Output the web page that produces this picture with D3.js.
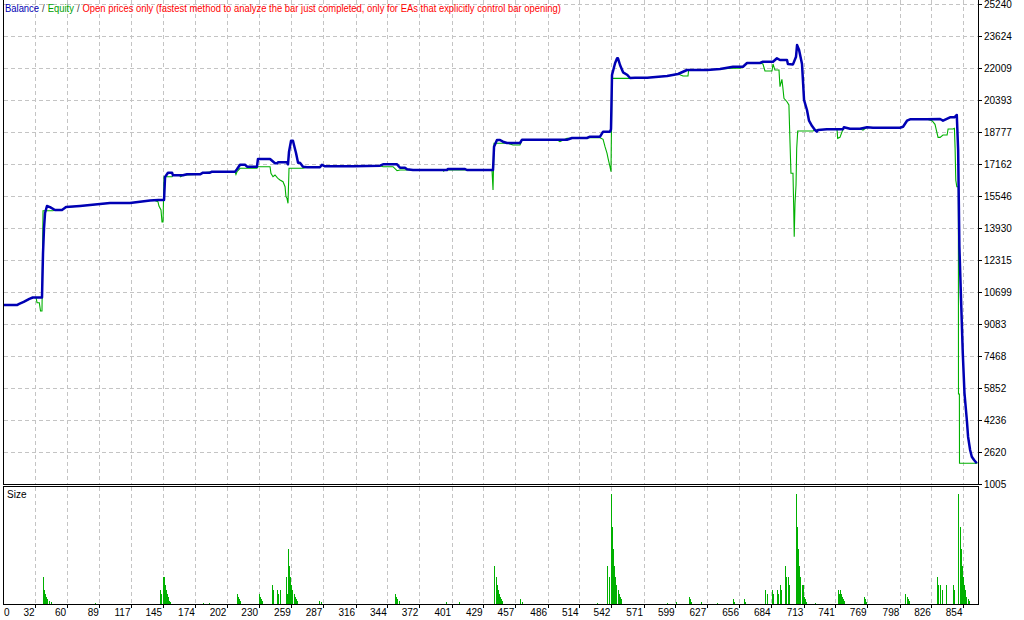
<!DOCTYPE html>
<html>
<head>
<meta charset="utf-8">
<script src="https://cdn.jsdelivr.net/npm/d3@7"></script>
<style>
  html, body { margin: 0; padding: 0; background: #fff; }
  svg { display: block; }
  text { font-family: "Liberation Sans", Arial, sans-serif; }
</style>
</head>
<body>
<div id="chart"></div>
<script>
// trade number labels along the bottom
var xTicks = [0, 32, 60, 89, 117, 145, 174, 202, 230, 259, 287, 316, 344, 372, 401, 429,
  457, 486, 514, 542, 571, 599, 627, 656, 684, 713, 741, 769, 798, 826, 854];
// money labels on the right
var yTicks = [25240, 23624, 22009, 20393, 18777, 17162, 15546, 13930, 12315, 10699,
  9083, 7468, 5852, 4236, 2620, 1005];

// [trade, balance]
var balance = [
  [4.5, 10040], [16, 10040], [18, 10100], [22, 10200], [27, 10350], [30, 10420], [38.2, 10421],
  [39.1, 12668], [40, 13930], [40.9, 14688], [42.6, 15041], [45.3, 14986], [49.7, 14839],
  [55.9, 14839], [59.5, 14986], [71.9, 15041], [80.7, 15091], [89.6, 15141], [98.4, 15192],
  [116.1, 15192], [125, 15258], [133.9, 15319], [140.9, 15344], [146.3, 15344], [147.2, 16505],
  [149.8, 16722], [153.4, 16722], [154.2, 16591], [163.1, 16591], [166.6, 16641], [178.2, 16641],
  [180.8, 16722], [187, 16722], [188.8, 16773], [209.2, 16773], [210.9, 16894], [213.6, 17126],
  [218, 17126], [219.8, 17025], [228.6, 17025], [229.5, 17414], [240.2, 17414], [244.6, 17197],
  [246.4, 17197], [247.2, 17247], [255.2, 17247], [256.1, 17146], [257, 17783], [258.8, 18338],
  [260.5, 18338], [261.4, 18121], [263.2, 17717], [265, 17227], [266.7, 17227], [269.4, 17025],
  [272.9, 16995], [284.4, 16995], [286.2, 17121], [288.9, 17045], [313.7, 17045], [337.6, 17076],
  [340.3, 17146], [352.7, 17146], [355.3, 16975], [359.7, 16975], [361.5, 16894], [366.8, 16859],
  [396.9, 16859], [397.8, 16910], [412.9, 16910], [414.6, 16859], [437.7, 16859], [438.6, 18035],
  [441.2, 18374], [443.9, 18374], [446.5, 18288], [450.1, 18222], [461.6, 18222], [463.4, 18389],
  [503.2, 18389], [507.7, 18474], [520.9, 18474], [523.6, 18540], [532.5, 18540], [535.2, 18793],
  [541.3, 18793], [542.2, 18914], [543.1, 21655], [545.8, 22246], [547.6, 22499], [548.4, 22499],
  [550.2, 22160], [552.9, 21791], [556.4, 21670], [559.1, 21504], [563.5, 21520], [574.2, 21520],
  [591.9, 21605], [601.6, 21706], [609.5, 21908], [627.2, 21908], [638.8, 21958], [650.3, 22074],
  [659.1, 22074], [662.7, 22261], [674.2, 22261], [676.8, 22327], [685.7, 22327], [689.2, 22499],
  [691.9, 22412], [698.1, 22412], [698.9, 22210], [703.4, 22190], [706.1, 22579], [707, 23170],
  [708.8, 22917], [711.4, 22210], [713.2, 20393], [715.8, 19888], [717.6, 19348], [720.3, 19080],
  [722.9, 18878], [724.5, 18793], [725.5, 18878], [733.5, 18914], [747.7, 18914], [748.5, 19015],
  [753.9, 18944], [762.8, 18944], [769, 19015], [774.3, 18995], [798.2, 18995], [800.9, 19045],
  [804.4, 19348], [807.1, 19418], [822.2, 19418], [833.7, 19433], [836.3, 19348], [842.5, 19519],
  [846.4, 19519], [848.5, 19636], [849.7, 17869], [850.8, 12986], [852.3, 10295], [853.8, 7619],
  [855.3, 5600], [857.4, 4236], [858.5, 3393], [860.3, 2722], [861.8, 2383], [863.8, 2217],
  [866.2, 2050]
];

// [trade, equity]
var equity = [
  [4.5, 10040], [16, 10040], [18, 10100], [22, 10200], [27, 10350], [30, 10420], [32.9, 10421],
  [33.8, 10159], [35.8, 10159], [36.9, 9740], [38.2, 9740], [39.1, 14804], [48, 14804],
  [49.7, 14839], [55.9, 14839], [59.5, 14986], [71.9, 15041], [80.7, 15091], [89.6, 15141],
  [98.4, 15192], [116.1, 15192], [125, 15258], [133.9, 15319], [138, 15319], [140.9, 15258],
  [141.8, 15041], [143.6, 14839], [144.5, 14234], [145.4, 14234], [146.3, 16521], [153.4, 16521],
  [154.2, 16591], [160, 16591], [161, 16521], [163.1, 16591], [178.2, 16641], [180.8, 16722],
  [188.8, 16773], [209.2, 16773], [210, 16641], [210.9, 16773], [213.6, 16945], [228.6, 16945],
  [229.5, 17025], [240.2, 17025], [241, 16692], [242.8, 16521], [244.6, 16607], [246.4, 16488],
  [247.2, 16438], [249, 16354], [251.7, 16268], [253.5, 16016], [254.3, 15511], [255.2, 15430],
  [256.1, 15177], [257, 16945], [269.4, 16945], [272.9, 16995], [284.4, 16995], [286.2, 17121],
  [288.9, 17045], [313.7, 17045], [337.6, 17076], [340.3, 17025], [349.1, 17025], [352.7, 16824],
  [355.3, 16859], [393.4, 16859], [394, 16800], [395, 16859], [436.8, 16859], [437.7, 15849],
  [438.6, 18207], [448.3, 18207], [450.1, 18222], [455.4, 18121], [461.6, 18121], [463.4, 18389],
  [494.4, 18389], [497, 18288], [503.2, 18457], [520.9, 18474], [521.8, 18490], [532.5, 18490],
  [535.2, 18409], [536.9, 18035], [538.7, 17702], [539.6, 17449], [541.3, 17025], [542.2, 16773],
  [543.1, 21487], [559.1, 21487], [563.5, 21520], [574.2, 21520], [591.9, 21605], [601.6, 21706],
  [606, 21605], [610.4, 21605], [611, 21908], [627.2, 21908], [638.8, 21958], [650.3, 21994],
  [656.5, 21994], [659.1, 22074], [662.7, 22261], [674.2, 22261], [676.8, 22210], [678.6, 21857],
  [684.8, 21857], [685.7, 22210], [687.4, 21908], [691, 21908], [691.9, 21064], [693.6, 21438],
  [694.5, 20984], [695.4, 20479], [698.1, 20307], [699.8, 20141], [700.7, 18374], [701.6, 16692],
  [703.4, 16692], [704, 15092], [704.5, 13491], [705.2, 15177], [706.1, 16102], [706.7, 17954],
  [707.6, 18828], [721.1, 18828], [722.9, 18878], [733.5, 18914], [742.4, 18914], [743, 18457],
  [745, 18508], [747.7, 18914], [748.5, 19015], [753.9, 18944], [762.8, 18944], [765.4, 18878],
  [769, 19015], [774.3, 18995], [798.2, 18995], [800.9, 19045], [804.4, 19348], [807.1, 19418],
  [822.2, 19418], [826.6, 19348], [829.2, 19166], [831.9, 18508], [833.7, 18508], [836.3, 18626],
  [839.9, 18626], [840.8, 18929], [845.2, 18929], [846.4, 18964], [847, 17954], [847.6, 16354],
  [848.5, 16016], [849.9, 16016], [850, 5549], [850.8, 5549], [850.9, 2050], [866.8, 2050]
];

// [trade, lots]
var sizeTrades = [
  [39, 0.8], [40, 0.4], [41, 0.28], [42, 0.2], [43, 0.14], [44, 0.1], [46, 0.07],
  [85, 0.03],
  [143, 0.4], [144, 0.28], [145, 0.8], [146, 0.8], [147, 0.56], [148, 0.4], [149, 0.28],
  [150, 0.2], [151, 0.1], [152, 0.07],
  [181, 0.03], [186, 0.03],
  [211, 0.28], [212, 0.2], [213, 0.14], [214, 0.1],
  [230, 0.28], [231, 0.2], [232, 0.14], [233, 0.1],
  [242, 0.56], [243, 0.4], [246, 0.4], [247, 0.28], [249, 0.4], [254, 0.8], [255, 0.28],
  [256, 1.6], [257, 1.12], [258, 0.8], [259, 0.56], [260, 0.4], [261, 0.28], [262, 0.2],
  [263, 0.14], [264, 0.1],
  [284, 0.1], [285, 0.07],
  [351, 0.28], [352, 0.2], [353, 0.14], [354, 0.1],
  [396, 0.05], [408, 0.05],
  [439, 1.12], [440, 0.8], [441, 0.56], [442, 0.4], [443, 0.28], [444, 0.2], [445, 0.14], [446, 0.1],
  [462, 0.14], [463, 0.07],
  [530, 0.03],
  [539, 1.12], [540, 0.8], [542, 3.2], [543, 2.24], [544, 1.6], [545, 1.12], [546, 0.8],
  [547, 0.56], [548, 0.4], [549, 0.28], [550, 0.2], [551, 0.14],
  [592, 0.03], [600, 0.07],
  [611, 0.2], [612, 0.14], [613, 0.07],
  [622, 0.07], [636, 0.03],
  [650, 0.14], [651, 0.07],
  [660, 0.14], [661, 0.07],
  [679, 0.4], [680, 0.28],
  [685, 0.4], [686, 0.28], [689, 0.4], [690, 0.28], [692, 0.56], [693, 0.4], [696, 1.12],
  [697, 0.8], [699, 0.8], [700, 0.56],
  [706, 3.2], [707, 2.24], [708, 1.6], [709, 1.12], [710, 0.8], [711, 0.56], [712, 0.56],
  [713, 0.2], [714, 0.14], [715, 0.07],
  [723, 0.03],
  [743, 0.4], [744, 0.28], [745, 0.4], [746, 0.28], [747, 0.2], [748, 0.14], [749, 0.1],
  [766, 0.2], [767, 0.14], [768, 0.07],
  [803, 0.28], [804, 0.2], [805, 0.14], [806, 0.1],
  [831, 0.8], [832, 0.56], [834, 0.56], [835, 0.4], [839, 0.56], [845, 0.56], [846, 0.4],
  [850, 3.2], [851, 2.24], [852, 1.6], [853, 1.12], [854, 0.8], [855, 0.56], [856, 0.4],
  [857, 0.2], [858, 0.14], [859, 0.1]
];

var legendParts = [
  { text: 'Balance', color: '#0000b4' },
  { text: '/', color: '#404040' },
  { text: 'Equity', color: '#00a000' },
  { text: '/', color: '#404040' },
  { text: 'Open prices only (fastest method to analyze the bar just completed, only for EAs that explicitly control bar opening)', color: '#ff0000' }
];

var width = 1024, height = 620;
var left = 3.5, right = 978.5;
var mainTop = 0, mainBottom = 484.5;
var sizeTop = 486.5, sizeBottom = 604.5;

var svg = d3.select('#chart')
  .append('svg')
  .attr('width', width)
  .attr('height', height);

var x = d3.scaleLinear().domain([32, 854]).range([35, 963]);
var y = d3.scaleLinear().domain([1005, 25240]).range([484, 4]);
var ySize = d3.scaleLinear().domain([0, 3.2]).range([604, 494]);

var gridColor = '#c4c4c4';

// horizontal grid (main)
svg.append('g').selectAll('line')
  .data(yTicks.slice(0, -1))
  .enter().append('line')
  .attr('x1', left).attr('x2', right)
  .attr('y1', function (d) { return Math.round(y(d)) + 0.5; })
  .attr('y2', function (d) { return Math.round(y(d)) + 0.5; })
  .attr('stroke', gridColor)
  .attr('stroke-dasharray', '4,3')
  .attr('shape-rendering', 'crispEdges');

// vertical grid (both panels)
var vTicks = xTicks.filter(function (d) { return x(d) > left + 2; });
[[mainTop, mainBottom], [sizeTop, sizeBottom]].forEach(function (p) {
  svg.append('g').selectAll('line')
    .data(vTicks)
    .enter().append('line')
    .attr('x1', function (d) { return Math.round(x(d)) + 0.5; })
    .attr('x2', function (d) { return Math.round(x(d)) + 0.5; })
    .attr('y1', p[0]).attr('y2', p[1])
    .attr('stroke', gridColor)
    .attr('stroke-dasharray', '4,3')
    .attr('shape-rendering', 'crispEdges');
});

// size bars
svg.append('g').selectAll('rect')
  .data(sizeTrades)
  .enter().append('rect')
  .attr('x', function (d) { return Math.round(x(d[0])); })
  .attr('width', 1)
  .attr('y', function (d) { return Math.round(ySize(d[1])); })
  .attr('height', function (d) { return 604 - Math.round(ySize(d[1])); })
  .attr('fill', '#00b000')
  .attr('shape-rendering', 'crispEdges');

// equity and balance lines
var line = d3.line()
  .x(function (d) { return x(d[0]); })
  .y(function (d) { return y(d[1]); });

svg.append('path')
  .datum(equity)
  .attr('d', line)
  .attr('fill', 'none')
  .attr('stroke', '#00b000')
  .attr('stroke-width', 1.1);

svg.append('path')
  .datum(balance)
  .attr('d', line)
  .attr('fill', 'none')
  .attr('stroke', '#0000b4')
  .attr('stroke-width', 2.5)
  .attr('stroke-linejoin', 'round');

// panel borders
var borders = svg.append('g')
  .attr('fill', 'none')
  .attr('stroke', '#000')
  .attr('shape-rendering', 'crispEdges');
borders.append('path')
  .attr('d', 'M' + left + ',' + mainTop + 'V' + mainBottom + 'H' + right + 'V' + mainTop);
borders.append('rect')
  .attr('x', left).attr('y', sizeTop)
  .attr('width', right - left).attr('height', sizeBottom - sizeTop);

// right axis: ticks + labels
var yAxis = svg.append('g');
yAxis.selectAll('line')
  .data(yTicks)
  .enter().append('line')
  .attr('x1', right).attr('x2', right + 3)
  .attr('y1', function (d) { return Math.round(y(d)) + 0.5; })
  .attr('y2', function (d) { return Math.round(y(d)) + 0.5; })
  .attr('stroke', '#000')
  .attr('shape-rendering', 'crispEdges');
yAxis.selectAll('text')
  .data(yTicks)
  .enter().append('text')
  .attr('x', 984)
  .attr('y', function (d) { return y(d) + 3.6; })
  .attr('font-size', 10)
  .attr('fill', '#000')
  .text(function (d) { return d; });

// bottom axis: ticks + labels
var xAxis = svg.append('g');
xAxis.selectAll('line')
  .data(vTicks)
  .enter().append('line')
  .attr('x1', function (d) { return Math.round(x(d)) + 0.5; })
  .attr('x2', function (d) { return Math.round(x(d)) + 0.5; })
  .attr('y1', sizeBottom).attr('y2', sizeBottom + 3)
  .attr('stroke', '#000')
  .attr('shape-rendering', 'crispEdges');
xAxis.selectAll('text')
  .data(xTicks)
  .enter().append('text')
  .attr('x', function (d) { return x(d) < left + 10 ? 4 : x(d) - 0.5; })
  .attr('text-anchor', function (d) { return x(d) < left + 10 ? 'start' : 'end'; })
  .attr('y', 616)
  .attr('font-size', 10)
  .attr('fill', '#000')
  .text(function (d) { return d; });

// legend: separate pieces laid out one after another, squeezed to the reference width
var legendWidth = 556, gap = 3;
var legendG = svg.append('g');
var pieces = legendG.selectAll('text')
  .data(legendParts)
  .enter().append('text')
  .attr('y', 12)
  .attr('font-size', 10.5)
  .attr('fill', function (d) { return d.color; })
  .text(function (d) { return d.text; });
var natural = [];
pieces.each(function () { natural.push(this.getComputedTextLength()); });
var k = (legendWidth - gap * (natural.length - 1)) / d3.sum(natural);
var cursor = 5;
pieces.each(function (d, i) {
  var w = natural[i] * k;
  d3.select(this)
    .attr('x', cursor)
    .attr('textLength', w)
    .attr('lengthAdjust', 'spacingAndGlyphs');
  cursor += w + gap;
});

svg.append('text')
  .attr('x', 7)
  .attr('y', 498)
  .attr('font-size', 10)
  .attr('fill', '#000')
  .text('Size');
</script>
</body>
</html>
